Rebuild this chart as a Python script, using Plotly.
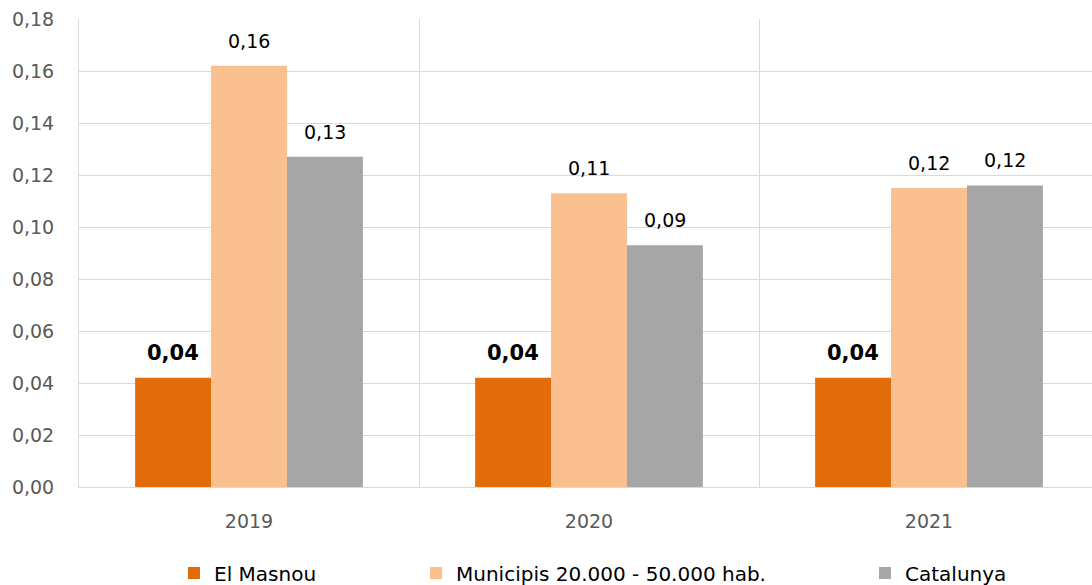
import plotly.graph_objects as go

# Data
years = ["2019", "2020", "2021"]
el_masnou = [0.042, 0.042, 0.042]
municipis = [0.162, 0.113, 0.115]
catalunya = [0.127, 0.093, 0.116]

series_names = ["El Masnou", "Municipis 20.000 - 50.000 hab.", "Catalunya"]
series_values = [el_masnou, municipis, catalunya]
series_colors = ["#E36C0A", "#FAC090", "#A6A6A6"]
y_ticks = [0.00, 0.02, 0.04, 0.06, 0.08, 0.10, 0.12, 0.14, 0.16, 0.18]

W, H = 1092, 585
ML, MR, MT, MB = 79, 0, 19, 98
FONT = "DejaVu Sans"

BARGAP = 0.33
x_range = [-0.5, -0.5 + (W - ML - MR) / 340.0]
cat_px = (W - ML - MR) / (x_range[1] - x_range[0])
bar_px = cat_px * (1 - BARGAP) / len(series_values)

fig = go.Figure()
legend_x = [174, 416, 865]
for i, (name, vals, col) in enumerate(zip(series_names, series_values, series_colors)):
    fig.add_trace(go.Bar(
        x=years, y=vals, name=name,
        marker=dict(color=col, line=dict(width=0)),
        legend="legend" if i == 0 else f"legend{i + 1}",
        showlegend=True,
        hoverinfo="skip",
    ))
    bold = i == 0
    for j, v in enumerate(vals):
        txt = f"{v:.2f}".replace(".", ",")
        # category index position; offset to the bar inside its group
        fig.add_annotation(
            x=j, y=v, xref="x", yref="y",
            text=f"<b>{txt}</b>" if bold else txt,
            showarrow=False, yanchor="middle",
            xshift=(i - 1) * bar_px, yshift=25,
            font=dict(family=FONT, size=21 if bold else 19, color="#000000"),
        )

legend_common = dict(
    orientation="h", xref="container", yref="container",
    xanchor="left", yanchor="middle", y=1 - 573 / H,
    font=dict(family=FONT, size=20, color="#000000"),
    bgcolor="rgba(0,0,0,0)", borderwidth=0,
)

fig.update_layout(
    width=W, height=H,
    margin=dict(l=ML, r=MR, t=MT, b=MB, pad=0),
    paper_bgcolor="white", plot_bgcolor="white",
    separators=", ",
    showlegend=True,
    barmode="group", bargap=BARGAP, bargroupgap=0,
    font=dict(family=FONT, size=19, color="#595959"),
    legend=dict(x=legend_x[0] / W, **legend_common),
    legend2=dict(x=legend_x[1] / W, **legend_common),
    legend3=dict(x=legend_x[2] / W, **legend_common),
    xaxis=dict(
        type="category", range=x_range, tickson="boundaries",
        showgrid=True, gridcolor="#D9D9D9", gridwidth=1,
        showline=True, linecolor="#D9D9D9", linewidth=1,
        ticks="", ticklabelstandoff=17,
        tickfont=dict(family=FONT, size=19, color="#595959"),
    ),
    yaxis=dict(
        range=[0, 0.18], tickvals=y_ticks, tickformat=".2f",
        showgrid=True, gridcolor="#D9D9D9", gridwidth=1,
        showline=True, linecolor="#D9D9D9", linewidth=1,
        zeroline=False, ticks="", ticklabelstandoff=20,
        tickfont=dict(family=FONT, size=19, color="#595959"),
    ),
)

fig.write_html("out.html")
